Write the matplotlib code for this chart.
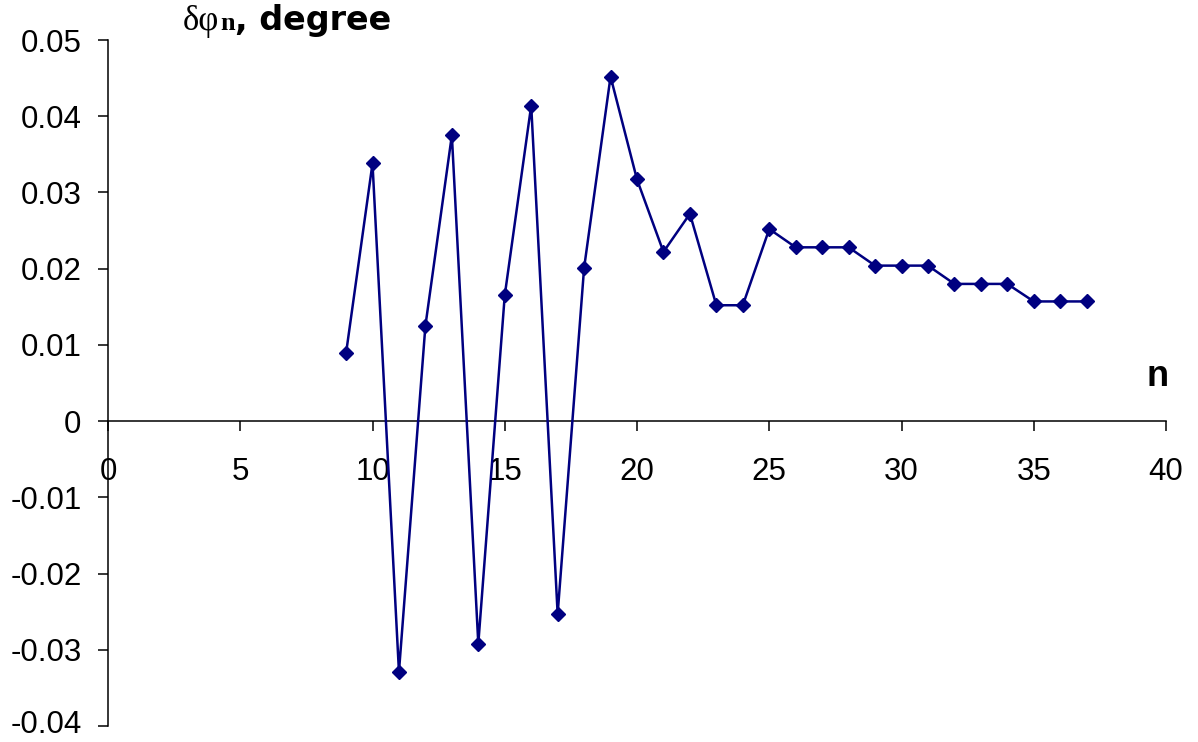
import matplotlib
matplotlib.use("Agg")
import matplotlib.pyplot as plt
import matplotlib.transforms as mtransforms

n_values = [9, 10, 11, 12, 13, 14, 15, 16, 17, 18, 19, 20, 21, 22, 23,
            24, 25, 26, 27, 28, 29, 30, 31, 32, 33, 34, 35, 36, 37]
dphi = [0.0089, 0.0338, -0.0329, 0.0125, 0.0375, -0.0292, 0.0165, 0.0414,
        -0.0253, 0.0201, 0.0452, 0.0317, 0.0222, 0.0272, 0.0152, 0.0152,
        0.0252, 0.0228, 0.0228, 0.0228, 0.0204, 0.0204, 0.0204, 0.0180,
        0.0180, 0.0180, 0.0157, 0.0157, 0.0157]

x_ticks = [0, 5, 10, 15, 20, 25, 30, 35, 40]
y_ticks = [-0.04, -0.03, -0.02, -0.01, 0, 0.01, 0.02, 0.03, 0.04, 0.05]
y_tick_labels = ["-0.04", "-0.03", "-0.02", "-0.01", "0",
                 "0.01", "0.02", "0.03", "0.04", "0.05"]

SANS = "Liberation Sans"
SERIF = "Liberation Serif"
W, H = 1198, 742

fig = plt.figure(figsize=(W / 100, H / 100), dpi=100)
ax = fig.add_axes([108 / W, 1 - 726 / H, 1058 / W, 686 / H])

ax.plot(n_values, dphi, color="#000080", linewidth=1.8,
        marker="D", markersize=7.5, markerfacecolor="#000080",
        markeredgecolor="#000080", clip_on=False, zorder=3)

ax.set_xlim(0, 40)
ax.set_ylim(-0.04, 0.05)

for side in ("top", "right"):
    ax.spines[side].set_visible(False)
ax.spines["bottom"].set_position(("data", 0))
for side in ("left", "bottom"):
    ax.spines[side].set_linewidth(1.1)
    ax.spines[side].set_color("black")

ax.set_xticks(x_ticks)
ax.set_xticklabels([str(t) for t in x_ticks])
ax.set_yticks(y_ticks)
ax.set_yticklabels(y_tick_labels)

ax.tick_params(axis="x", direction="out", length=7, width=1.1,
               pad=19, labelsize=22.5)
ax.tick_params(axis="y", direction="out", length=7, width=1.1,
               pad=12, labelsize=22.5)
for lab in ax.get_xticklabels() + ax.get_yticklabels():
    lab.set_fontfamily(SANS)

# keep the lowest y label inside the figure
low = ax.get_yticklabels()[0]
low.set_transform(low.get_transform() +
                  mtransforms.ScaledTranslation(0, 3 / 72, fig.dpi_scale_trans))

# y-axis title pieces laid out on a common baseline
base_y = 1 - 30 / H
renderer = fig.canvas.get_renderer()
t1 = fig.text(183 / W, base_y, "\u03b4\u03c6", fontsize=25,
              family=SERIF, ha="left", va="baseline")
x1 = t1.get_window_extent(renderer).x1
t2 = fig.text((x1 + 1) / W, base_y, "n", fontsize=19, family=SERIF,
              weight="bold", ha="left", va="baseline")
x2 = t2.get_window_extent(renderer).x1
fig.text(x2 / W, base_y, ", degree", fontsize=24, family="DejaVu Sans",
         weight="bold", ha="left", va="baseline")

# x-axis title
fig.text(1158 / W, 1 - 377 / H, "n", fontsize=26, family=SANS,
         weight="bold", ha="center", va="center")

fig.savefig("out.png", dpi=100, facecolor="white")
